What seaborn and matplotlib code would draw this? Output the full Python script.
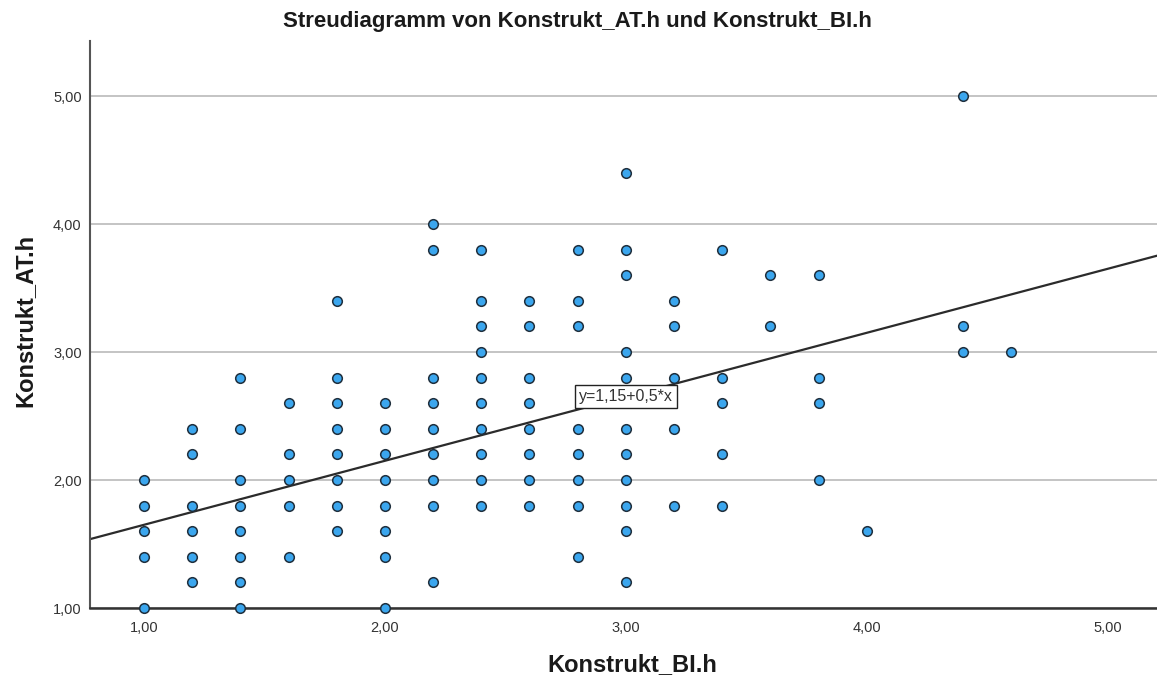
import matplotlib
matplotlib.use("Agg")
import matplotlib.pyplot as plt
import seaborn as sns
import pandas as pd
import numpy as np

# ---- data ----
bi_h = ([1.0] * 5 + [1.2] * 6 + [1.4] * 8 + [1.6] * 5 + [1.8] * 8 + [2.0] * 8 +
        [2.2] * 9 + [2.4] * 10 + [2.6] * 8 + [2.8] * 8 + [3.0] * 11 + [3.2] * 5 +
        [3.4] * 5 + [3.6] * 2 + [3.8] * 4 + [4.0] * 1 + [4.4] * 3 + [4.6] * 1)
at_h = ([2.0, 1.8, 1.6, 1.4, 1.0] +
        [2.4, 2.2, 1.8, 1.6, 1.4, 1.2] +
        [2.8, 2.4, 2.0, 1.8, 1.6, 1.4, 1.2, 1.0] +
        [2.6, 2.2, 2.0, 1.8, 1.4] +
        [3.4, 2.8, 2.6, 2.4, 2.2, 2.0, 1.8, 1.6] +
        [2.6, 2.4, 2.2, 2.0, 1.8, 1.6, 1.4, 1.0] +
        [4.0, 3.8, 2.8, 2.6, 2.4, 2.2, 2.0, 1.8, 1.2] +
        [3.8, 3.4, 3.2, 3.0, 2.8, 2.6, 2.4, 2.2, 2.0, 1.8] +
        [3.4, 3.2, 2.8, 2.6, 2.4, 2.2, 2.0, 1.8] +
        [3.8, 3.4, 3.2, 2.4, 2.2, 2.0, 1.8, 1.4] +
        [4.4, 3.8, 3.6, 3.0, 2.8, 2.4, 2.2, 2.0, 1.8, 1.6, 1.2] +
        [3.4, 3.2, 2.8, 2.4, 1.8] +
        [3.8, 2.8, 2.6, 2.2, 1.8] +
        [3.6, 3.2] +
        [3.6, 2.8, 2.6, 2.0] +
        [1.6] +
        [5.0, 3.2, 3.0] +
        [3.0])
fit_intercept = 1.15
fit_slope = 0.5
fit_label = "y=1,15+0,5*x"
x_ticks = [1.0, 2.0, 3.0, 4.0, 5.0]
y_ticks = [1.0, 2.0, 3.0, 4.0, 5.0]
title = "Streudiagramm von Konstrukt_AT.h und Konstrukt_BI.h"
x_label = "Konstrukt_BI.h"
y_label = "Konstrukt_AT.h"

df = pd.DataFrame({"Konstrukt_BI.h": bi_h, "Konstrukt_AT.h": at_h})

sns.set_theme(style="white")
plt.rcParams["font.family"] = ["Liberation Sans", "DejaVu Sans"]

fig = plt.figure(figsize=(11.57, 6.82), dpi=100)
ax = fig.add_axes([90 / 1157, 1 - 608 / 682, 1 - 90 / 1157, (608 - 41) / 682])

xmin, xmax = 0.776, 5.205
ymin, ymax = 1.0, 5.43
ax.set_xlim(xmin, xmax)
ax.set_ylim(ymin, ymax)

# gridlines
for yt in y_ticks:
    ax.axhline(yt, color="#c4c4c4", lw=1.4, zorder=0)

# regression line
xs = np.array([xmin, xmax])
ax.plot(xs, fit_intercept + fit_slope * xs, color="#2b2b2b", lw=1.6, zorder=2)

sns.scatterplot(data=df, x="Konstrukt_BI.h", y="Konstrukt_AT.h", ax=ax,
                s=48, color="#3ba6ee", edgecolor="#1f2f3d", linewidth=1.1,
                zorder=3, clip_on=False)

# fit label box
xl = 3.0
ax.text(xl, fit_intercept + fit_slope * xl, fit_label, ha="center", va="center",
        fontsize=11.5, color="#333333", zorder=5,
        bbox=dict(boxstyle="square,pad=0.25", fc="white", ec="#222222", lw=1.0))

ax.set_xticks(x_ticks)
ax.set_yticks(y_ticks)
ax.set_xticklabels([f"{v:.2f}".replace(".", ",") for v in x_ticks])
ax.set_yticklabels([f"{v:.2f}".replace(".", ",") for v in y_ticks])
ax.tick_params(axis="both", length=0, labelsize=10.5, colors="#333333")
ax.tick_params(axis="x", pad=9)
ax.tick_params(axis="y", pad=6)

for side in ["top", "right"]:
    ax.spines[side].set_visible(False)
ax.spines["left"].set_color("#555555")
ax.spines["left"].set_linewidth(1.5)
ax.spines["bottom"].set_color("#333333")
ax.spines["bottom"].set_linewidth(1.8)

ax.set_xlabel("")
ax.set_ylabel("")
fig.text(632 / 1157, 1 - 665 / 682, x_label, ha="center", va="center",
         fontsize=17, fontweight="bold", color="#1a1a1a")
fig.text(25 / 1157, 1 - 320 / 682, y_label, ha="center", va="center",
         rotation=90, fontsize=17, fontweight="bold", color="#1a1a1a")
fig.text(577 / 1157, 1 - 21 / 682, title, ha="center", va="center",
         fontsize=16, fontweight="bold", color="#1a1a1a")

fig.savefig("out.png", dpi=100, facecolor="white")
